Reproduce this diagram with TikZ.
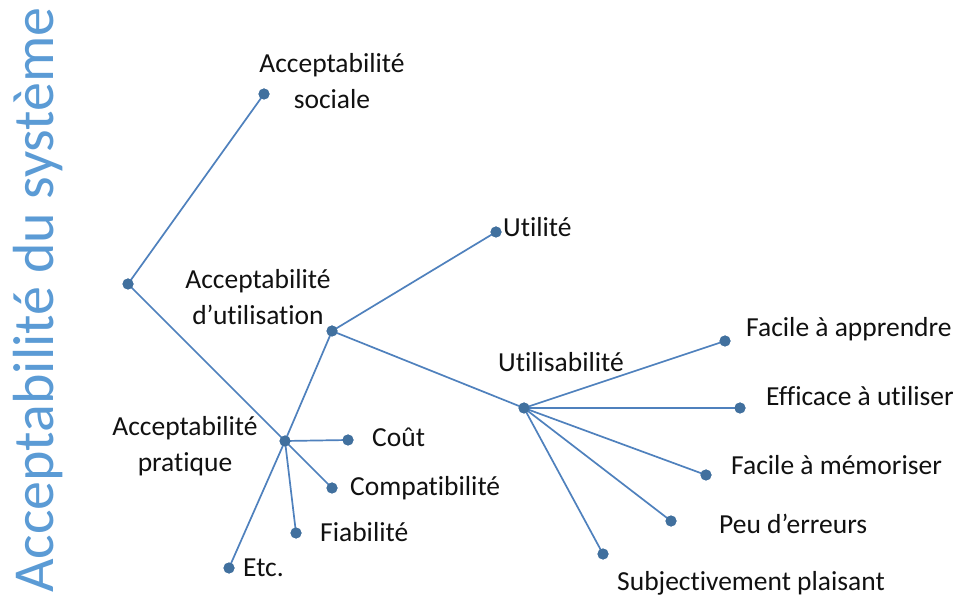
\documentclass[tikz,border=0pt]{standalone}
\usepackage{fontspec}
\setmainfont{Carlito}[Ligatures={NoCommon}]
\definecolor{linec}{HTML}{4F81BD}
\definecolor{dotc}{HTML}{41709E}
\definecolor{titlec}{HTML}{5B9BD5}
\definecolor{txtc}{HTML}{111111}
\begin{document}
\begin{tikzpicture}[x=1pt,y=-1pt,
  pt/.style={circle,fill=dotc,inner sep=0pt,minimum size=11pt},
  edge/.style={draw=linec,line width=1.7pt},
  lbl/.style={text=txtc,inner sep=0pt,font=\fontsize{27.5}{36}\selectfont},
  lbll/.style={lbl,anchor=west},
  lblc/.style={lbl,align=center}]
\useasboundingbox[fill=white] (0,0) rectangle (967,601);
% points
\node[pt] (root) at (128,284) {};
\node[pt] (soc) at (264,94) {};
\node[pt] (prat) at (285,441) {};
\node[pt] (util) at (332,331) {};
\node[pt] (utilite) at (496,232) {};
\node[pt] (usab) at (524,408) {};
\node[pt] (fa) at (725,341) {};
\node[pt] (eu) at (740,408) {};
\node[pt] (fm) at (706,475) {};
\node[pt] (pe) at (671,521) {};
\node[pt] (sp) at (603,554) {};
\node[pt] (cout) at (348,440) {};
\node[pt] (comp) at (332,488) {};
\node[pt] (fiab) at (296,533) {};
\node[pt] (etc) at (229,568) {};
% edges
\draw[edge] (root.center) -- (soc.center);
\draw[edge] (root.center) -- (prat.center);
\draw[edge] (prat.center) -- (util.center);
\draw[edge] (util.center) -- (utilite.center);
\draw[edge] (util.center) -- (usab.center);
\draw[edge] (usab.center) -- (fa.center);
\draw[edge] (usab.center) -- (eu.center);
\draw[edge] (usab.center) -- (fm.center);
\draw[edge] (usab.center) -- (pe.center);
\draw[edge] (usab.center) -- (sp.center);
\draw[edge] (prat.center) -- (cout.center);
\draw[edge] (prat.center) -- (comp.center);
\draw[edge] (prat.center) -- (fiab.center);
\draw[edge] (prat.center) -- (etc.center);
% redraw dots on top
\foreach \n in {root,soc,prat,util,utilite,usab,fa,eu,fm,pe,sp,cout,comp,fiab,etc}
  \fill[dotc] (\n.center) circle (5.5pt);
% labels
\node[lblc] (tsoc) at (332,81) {Acceptabilité\\sociale};
\node[lbll] (tutilite) at (503,227) {Utilité};
\node[lblc] (tutil) at (258,297) {Acceptabilité\\d’utilisation};
\node[lbll] (tusab) at (498,362) {Utilisabilité};
\node[lbll] (tfa) at (746,329) {Facile à apprendre};
\node[lbll] (teu) at (766,396) {Efficace à utiliser};
\node[lbll] (tfm) at (731,465) {Facile à mémoriser};
\node[lbll] (tpe) at (719,524) {Peu d’erreurs};
\node[lbll] (tsp) at (617,583) {Subjectivement plaisant};
\node[lbll] (tcout) at (372,437) {Coût};
\node[lbll] (tcomp) at (350,488) {Compatibilité};
\node[lbll] (tfiab) at (320,532) {Fiabilité};
\node[lbll] (tetc) at (243,568) {Etc.};
\node[lblc] (tprat) at (185,446) {Acceptabilité\\pratique};
\node[text=titlec,inner sep=0pt,rotate=90,font=\fontsize{58}{60}\selectfont] (title) at (38,300) {Acceptabilité du système};
\end{tikzpicture}
\end{document}
